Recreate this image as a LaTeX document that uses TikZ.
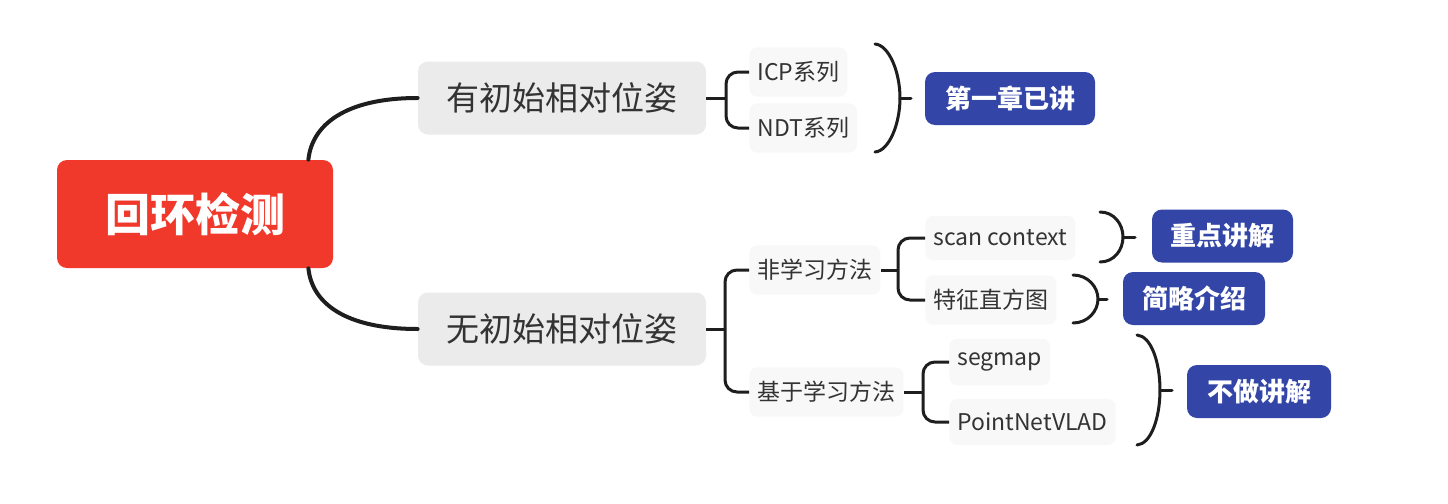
\documentclass[tikz,border=0pt]{standalone}
\usepackage{fontspec}
\setmainfont{Noto Sans CJK SC}
\usetikzlibrary{calc}
\definecolor{rootred}{HTML}{F0392B}
\definecolor{labelblue}{HTML}{3346A8}
\definecolor{boxgray}{HTML}{EBEBEB}
\definecolor{leafgray}{HTML}{F8F8F8}
\definecolor{inkgray}{HTML}{333333}
\definecolor{linegray}{HTML}{1E1E1E}
\begin{document}
\begin{tikzpicture}[x=0.5pt,y=-0.5pt,
  rootbox/.style={fill=rootred,text=white,rounded corners=5pt,minimum width=138pt,minimum height=54pt,font=\fontsize{22.5}{24}\selectfont\bfseries},
  topicbox/.style={fill=boxgray,text=inkgray,rounded corners=5pt,minimum width=144pt,minimum height=36.5pt,font=\fontsize{16.5}{18}\selectfont},
  leafbox/.style={fill=leafgray,text=inkgray,rounded corners=4pt,anchor=west,inner xsep=4pt,inner ysep=7pt,font=\fontsize{11.5}{13}\selectfont},
  tagbox/.style={fill=labelblue,text=white,rounded corners=5pt,minimum height=26.5pt,font=\fontsize{13}{15}\selectfont\bfseries},
  branch/.style={draw=linegray,line width=2pt,line cap=round},
  brace/.style={draw=linegray,line width=1.5pt,rounded corners=6pt},
  paren/.style={draw=linegray,line width=1.5pt,line cap=round}
]
\useasboundingbox (0,0) rectangle (1448,504);
\fill[white] (0,0) rectangle (1448,504);

% central topic and its two branches
\node[rootbox] (root) at (195,214) {回环检测};
\node[topicbox] (withpose) at (562,98) {有初始相对位姿};
\node[topicbox] (nopose) at (562,329) {无初始相对位姿};

\draw[branch] ([xshift=-12.5pt]root.north east) .. controls (312,125) and (345,98) .. (withpose.west);
\draw[branch] ([xshift=-12.5pt]root.south east) .. controls (312,303) and (345,329) .. (nopose.west);

% with an initial pose: ICP / NDT
\node[leafbox] (icp) at (749,72) {ICP系列};
\node[leafbox] (ndt) at (749,128) {NDT系列};
\coordinate (b1) at (726,98);
\draw[brace] (withpose.east) -- (b1);
\draw[brace] (icp.west) -- (b1 |- icp.west) -- (b1 |- ndt.west) -- (ndt.west);

\coordinate (p1t) at (875,44);
\coordinate (p1m) at (900,98);
\coordinate (p1b) at (875,152);
\coordinate (p1e) at (911,98);
\draw[paren] (p1t) .. controls (889,45) and (900,72) .. (p1m) .. controls (900,124) and (889,151) .. (p1b);
\draw[paren] (p1m) -- (p1e);
\node[tagbox,minimum width=85pt] (tag1) at (1010,98.5) {第一章已讲};

% without an initial pose
\node[leafbox] (nonlearn) at (749,270) {非学习方法};
\node[leafbox] (learn) at (749,392) {基于学习方法};
\coordinate (b2) at (725,329);
\draw[brace] (nopose.east) -- (b2);
\draw[brace] (nonlearn.west) -- (b2 |- nonlearn.west) -- (b2 |- learn.west) -- (learn.west);

% non-learning methods
\node[leafbox] (scan) at (925,238) {scan context};
\node[leafbox] (hist) at (925,300) {特征直方图};
\coordinate (b3) at (898,270);
\draw[brace] (nonlearn.east) -- (b3);
\draw[brace] (scan.west) -- (b3 |- scan.west) -- (b3 |- hist.west) -- (hist.west);

% learning-based methods
\node[leafbox] (segmap) at (949,362) {segmap};
\node[leafbox] (pnv) at (949,422) {PointNetVLAD};
\coordinate (b4) at (923,392);
\draw[brace] (learn.east) -- (b4);
\draw[brace] (segmap.west) -- (b4 |- segmap.west) -- (b4 |- pnv.west) -- (pnv.west);

% scan context -> focus
\coordinate (p2t) at (1100,212);
\coordinate (p2m) at (1123,237);
\coordinate (p2b) at (1100,262);
\coordinate (p2e) at (1135,237);
\draw[paren] (p2t) .. controls (1114,212) and (1123,224) .. (p2m) .. controls (1123,250) and (1114,262) .. (p2b);
\draw[paren] (p2m) -- (p2e);
\node[tagbox,minimum width=70.5pt] (tag2) at (1222.5,236) {重点讲解};

% histogram -> brief
\coordinate (p3t) at (1073,275);
\coordinate (p3m) at (1098,299);
\coordinate (p3b) at (1073,323);
\coordinate (p3e) at (1107,299);
\draw[paren] (p3t) .. controls (1088,275) and (1098,287) .. (p3m) .. controls (1098,311) and (1088,323) .. (p3b);
\draw[paren] (p3m) -- (p3e);
\node[tagbox,minimum width=71pt] (tag3) at (1194,298.5) {简略介绍};

% learning-based -> skipped
\coordinate (p4t) at (1137,335);
\coordinate (p4m) at (1160,390);
\coordinate (p4b) at (1137,445);
\coordinate (p4e) at (1172,390);
\draw[paren] (p4t) .. controls (1151,336) and (1160,362) .. (p4m) .. controls (1160,418) and (1151,444) .. (p4b);
\draw[paren] (p4m) -- (p4e);
\node[tagbox,minimum width=72pt] (tag4) at (1259,391.5) {不做讲解};
\end{tikzpicture}
\end{document}
